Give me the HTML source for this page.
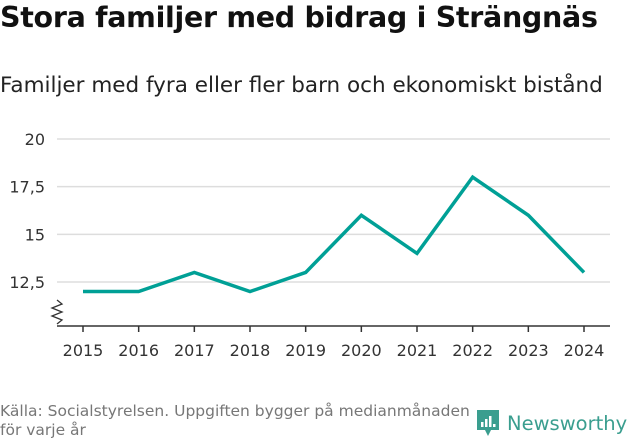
<!DOCTYPE html>
<html><head><meta charset="utf-8"><style>
body{margin:0;width:631px;height:439px;background:#fff;font-family:"DejaVu Sans","Liberation Sans",sans-serif;overflow:hidden;position:relative}
</style></head><body>
<div style="position:absolute;left:0;top:1px;font-size:28.5px;font-weight:bold;color:#111;letter-spacing:-0.3px">Stora familjer med bidrag i Strängnäs</div>
<div style="position:absolute;left:0;top:73px;font-size:21.5px;color:#222">Familjer med fyra eller fler barn och ekonomiskt bistånd</div>
<svg id="c" width="631" height="439" style="position:absolute;left:0;top:0"></svg>
<div style="position:absolute;left:0;top:402px;font-size:15.5px;line-height:19px;color:#777;width:490px">Källa: Socialstyrelsen. Uppgiften bygger på medianmånaden för varje år</div>
<div style="position:absolute;left:475px;top:408px;display:flex;align-items:center">
<svg width="26" height="30" viewBox="0 0 26 30"><path d="M2 2h22v20h-8l-3 6-3-6H2z" fill="#3a9e8f"/><rect x="6" y="14" width="2.5" height="5" fill="#fff"/><rect x="10" y="11" width="2.5" height="8" fill="#fff"/><rect x="14" y="8" width="2.5" height="11" fill="#fff"/><rect x="18" y="16" width="2.5" height="3" fill="#fff"/></svg>
<span style="font-size:19.5px;color:#3a9e8f;margin-left:6px">Newsworthy</span></div>
<script>
const years=[2015,2016,2017,2018,2019,2020,2021,2022,2023,2024];
const values=[12,12,13,12,13,16,14,18,16,13];
const yTicks=[12.5,15,17.5,20];
const yLabels=["12,5","15","17,5","20"];
const ns="http://www.w3.org/2000/svg",svg=document.getElementById('c');
const x=i=>83+i*(584-83)/9, y=v=>282-(v-12.5)*(143/7.5);
function mk(t,a){const e=document.createElementNS(ns,t);for(const k in a)e.setAttribute(k,a[k]);svg.appendChild(e);return e;}
yTicks.forEach((t,i)=>{
 const g=mk('line',{x1:57,x2:610,y1:y(t),y2:y(t),stroke:'#ddd','stroke-width':1.5});
 
 
 const l=mk('text',{x:45,y:y(t)+6,'text-anchor':'end','font-size':16,fill:'#333','font-family':'DejaVu Sans,sans-serif'});
 l.textContent=yLabels[i];
 
 
});
const ax=mk('line',{x1:57,x2:610,y1:326,y2:326,stroke:'#333','stroke-width':1.5});


const br=mk('path',{d:'M57 300 L62 304 L52 308 L62 312 L52 316 L62 320 L57 324',fill:'none',stroke:'#333','stroke-width':1.3});


years.forEach((yr,i)=>{
 const t=mk('line',{x1:x(i),x2:x(i),y1:326,y2:332,stroke:'#333','stroke-width':1.5});
 
 
 const l=mk('text',{x:x(i),y:356,'text-anchor':'middle','font-size':16,fill:'#333','font-family':'DejaVu Sans,sans-serif'});
 l.textContent=yr;
 
 
});
const p=mk('polyline',{points:values.map((v,i)=>x(i)+','+y(v)).join(' '),fill:'none',stroke:'#00a096','stroke-width':3.5,'stroke-linejoin':'miter'});


</script>
</body></html>
